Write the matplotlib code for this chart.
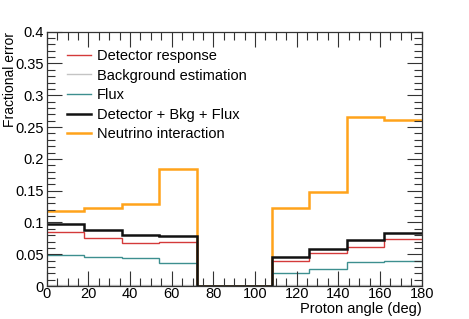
import matplotlib
matplotlib.use("Agg")
import matplotlib.pyplot as plt
from matplotlib.ticker import MultipleLocator
import numpy as np

plt.rcParams['font.family'] = ['Liberation Sans', 'DejaVu Sans']

bin_edges = [0, 18, 36, 54, 72, 90, 108, 126, 144, 162, 180]
detector = [0.085, 0.075, 0.068, 0.069, 0.0, 0.0, 0.040, 0.052, 0.062, 0.074]
background = [0.001, 0.001, 0.001, 0.001, 0.0, 0.0, 0.001, 0.001, 0.001, 0.001]
flux = [0.049, 0.046, 0.044, 0.036, 0.0, 0.0, 0.021, 0.027, 0.037, 0.040]
combined = [0.098, 0.088, 0.081, 0.079, 0.0, 0.0, 0.045, 0.059, 0.072, 0.084]
interaction = [0.118, 0.123, 0.129, 0.184, 0.0, 0.0, 0.123, 0.148, 0.266, 0.261]

labels = ["Detector response", "Background estimation", "Flux",
          "Detector + Bkg + Flux", "Neutrino interaction"]
colors = ["#d43a3a", "#c4c4c4", "#3d8f8f", "#111111", "#ffa31a"]
widths = [1.0, 1.0, 1.0, 1.8, 1.8]

fs = 10.5
fig = plt.figure(figsize=(4.69, 3.19), dpi=100)
ax = fig.add_axes([0.0996, 0.1034, 0.7994, 0.7972])

series = [detector, background, flux, combined, interaction]
handles = []
for vals, lab, c, w in zip(series, labels, colors, widths):
    h = ax.plot([], [], color=c, lw=w, label=lab)[0]
    handles.append(h)

draw_order = [4, 0, 1, 2, 3]
for i in draw_order:
    ax.stairs(series[i], bin_edges, color=colors[i], lw=widths[i], baseline=None)

ax.set_xlim(0, 180)
ax.set_ylim(0, 0.4)
ax.xaxis.set_major_locator(MultipleLocator(20))
ax.xaxis.set_minor_locator(MultipleLocator(5))
ax.yaxis.set_major_locator(MultipleLocator(0.05))
ax.yaxis.set_minor_locator(MultipleLocator(0.01))
ax.yaxis.set_major_formatter(matplotlib.ticker.FuncFormatter(lambda v, p: ('%g' % round(v, 3))))
ax.tick_params(which='both', direction='in', top=True, right=True, labelsize=fs,
               color='#333333', width=0.8)
ax.tick_params(which='major', length=11)
ax.tick_params(which='minor', length=5.5)
ax.tick_params(axis='x', pad=1)
ax.tick_params(axis='y', pad=2)
for s in ax.spines.values():
    s.set_color('#333333')
    s.set_linewidth(0.9)

fig.text(422 / 469, 1 - 313.5 / 319, "Proton angle (deg)", fontsize=fs,
         ha='right', va='baseline')
fig.text(9.5 / 469, 1 - 32 / 319, "Fractional error", fontsize=fs * 0.95,
         ha='center', va='top', rotation=90)

leg = ax.legend(handles=handles, loc='upper left', bbox_to_anchor=(0.053, 0.932),
                frameon=False, fontsize=fs, handlelength=1.65, handletextpad=0.41,
                labelspacing=0.38, borderaxespad=0, borderpad=0)

fig.savefig("out.png", dpi=100)
